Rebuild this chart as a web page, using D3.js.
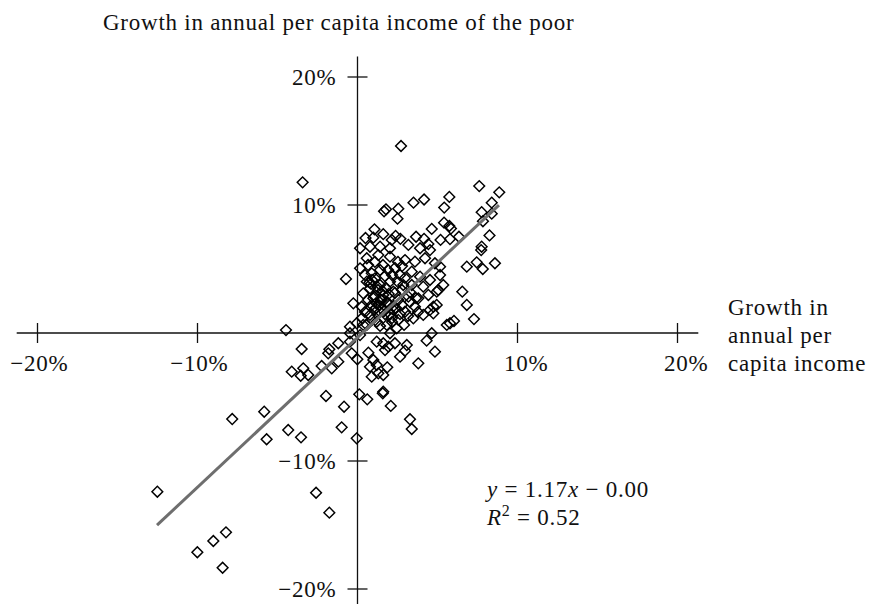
<!DOCTYPE html>
<html>
<head>
<meta charset="utf-8">
<script src="https://cdn.jsdelivr.net/npm/d3@7"></script>
<style>
  body { margin: 0; background: #fff; }
  svg text {
    font-family: "Palatino Linotype", "Book Antiqua", Palatino, "Liberation Serif", serif;
    font-size: 23px;
    fill: #111;
    letter-spacing: 0.75px;
  }
</style>
</head>
<body>
<div id="chart"></div>
<script>
// growth in annual per capita income (%), one entry per country spell
const incomeGrowth = [
  2.72, -3.43, 7.61, 8.86, 3.50, 4.16, 5.74, 5.42, 1.78, 1.66, 2.55, 2.50, 8.39, 7.76, 8.39, 7.84,
  8.25, 7.76, 5.41, 5.74, 5.84, 4.64, 1.06, 0.50, 1.61, 2.38, 2.68, 3.66, 4.16, 5.19, 6.34, 4.43,
  0.99, 2.14, 0.16, 0.78, 1.41, 2.03, 3.18, 3.91, 4.53, 0.58, 1.30, 2.03, 2.97, 3.59, 4.22, 4.84,
  -0.72, 0.16, 0.89, 1.41, 1.09, 0.58, 0.78, 1.41, 2.03, 2.66, 3.39, 3.91, 4.53, 5.16, 2.24, 1.61,
  0.99, 0.36, -0.26, 0.26, 0.89, 1.83, 2.55, 3.18, 3.80, 4.43, 4.95, 4.95, 4.53, 3.59, 2.97, 2.24,
  1.41, 0.78, -0.05, 0.58, 1.20, 1.83, 2.55, 3.49, 4.11, -0.47, 0.16, 4.64, 5.58, 5.36, 3.39, 2.86,
  4.11, 7.73, 7.45, 6.83, 7.83, 8.59, 5.78, 5.16, 5.05, 4.74, 4.74, 6.55, 6.83, 7.28, 5.78, 6.03,
  -4.47, -3.49, -1.76, -1.83, -1.20, -0.47, -0.47, -0.36, -0.01, 0.36, 0.68, 0.99, 0.78, 1.20, 0.89, 1.30,
  1.61, 1.86, -4.11, -3.39, -3.55, -3.08, -2.24, -1.61, -1.20, 1.61, 1.93, 2.34, 2.66, 3.08, 2.97, 3.80,
  4.84, 4.32, 1.61, 1.58, 2.08, 0.61, 0.11, -1.97, -0.84, 3.28, 3.39, -0.99, -0.05, -4.33, -3.53, 2.03,
  2.45, 1.20, 1.72, -12.51, -10.01, -9.01, -8.22, -8.43, -7.83, -5.83, -5.68, -2.59, -1.76,
  0.66, 1.09, 1.59, 1.91, 2.34, 2.78, 0.47, 0.91, 1.72, 2.16, 2.53, 2.97, 1.28, 1.78, 2.34, 2.78,
  3.28, 0.66, 1.16, 1.53, 2.03, 2.41, 2.78, 3.28, 3.66, 0.47, 1.03, 1.72, 2.16, 2.66, 3.16, 3.78,
  0.91, 1.41, 2.16, 2.91, 0.28, 2.53,
  0.85, 1.25, 1.55, 1.95, 1.05, 1.45, 1.85, 2.25, 1.15, 1.65, 2.05, 0.75, 1.35
]

// growth in annual per capita income of the poor (%), same order
const poorGrowth = [
  14.61, 11.77, 11.48, 10.99, 10.18, 10.43, 10.63, 9.80, 9.66, 9.51, 9.71, 8.93, 10.18, 9.44, 9.32, 8.73,
  7.62, 6.74, 8.62, 8.36, 8.16, 8.13, 8.10, 7.42, 7.72, 7.58, 7.36, 7.52, 7.36, 7.27, 7.52, 6.95,
  7.45, 7.27, 6.62, 6.74, 6.74, 6.62, 6.88, 6.62, 6.48, 5.84, 6.09, 5.96, 5.70, 5.57, 5.84, 5.45,
  4.22, 5.05, 4.66, 4.92, 4.27, 4.01, 3.49, 3.75, 4.01, 4.53, 4.79, 4.40, 4.14, 4.53, 3.23, 2.97,
  2.71, 3.10, 2.32, 2.05, 2.19, 2.45, 2.58, 2.84, 2.71, 2.97, 3.23, 2.19, 1.80, 2.05, 1.66, 1.80,
  1.66, 1.41, 0.76, 0.63, 0.88, 0.63, 1.02, 1.15, 1.41, -0.02, -0.16, -0.02, 0.63, 3.75, 3.75, 3.75,
  3.62, 6.48, 5.52, 5.18, 5.00, 5.45, 7.34, 5.18, 3.36, 2.05, 1.54, 3.23, 2.19, 1.09, 0.76, 0.94,
  0.23, -1.25, -1.27, -1.59, -0.80, 0.49, -0.68, -1.59, -2.05, 0.63, -1.54, -2.11, -2.63, -2.50, -3.41, -3.15,
  -3.28, -2.68, -3.02, -2.76, -3.34, -3.28, -2.58, -2.76, -2.24, -0.80, -1.07, -0.80, -1.85, -0.94, -1.38, -2.37,
  -1.46, -0.60, -4.59, -4.71, -5.70, -5.18, -4.79, -4.92, -5.76, -6.74, -7.50, -7.37, -8.23, -7.58, -8.15, -0.02,
  0.37, -0.68, -1.33, -12.40, -17.13, -16.25, -15.57, -18.34, -6.72, -6.15, -8.30, -12.48, -14.04,
  5.31, 5.55, 5.31, 4.92, 5.08, 5.23, 4.53, 4.14, 4.45, 4.53, 3.98, 4.30, 3.36, 3.52, 3.13, 3.36,
  3.20, 2.58, 2.34, 2.58, 2.19, 1.95, 2.19, 2.42, 2.73, 1.64, 1.80, 1.48, 1.17, 1.48, 1.33, 1.64,
  1.02, 0.55, 0.86, 0.63, 1.17, 5.55,
  3.85, 3.60, 3.30, 3.05, 2.85, 2.60, 2.35, 2.10, 1.95, 1.70, 1.45, 3.95, 2.15
]

const xTicks = [-20, -10, 10, 20]
const yTicks = [20, 10, -10, -20]

// fitted line y = 1.17x - 0.0035 (in % units), drawn over the range of the data
const fitSlope = 1.17
const fitIntercept = -0.35
const fitRange = [-12.53, 8.84]

const width = 878
const height = 604

const svg = d3.select('#chart')
  .append('svg')
  .attr('width', width)
  .attr('height', height)

svg.append('rect')
  .attr('width', width)
  .attr('height', height)
  .attr('fill', '#fff')

const x = d3.scaleLinear().domain([-20, 20]).range([37.5, 677.5])
const y = d3.scaleLinear().domain([-20, 20]).range([589, 77])

const pct = t => (t < 0 ? '\u2212' : '') + Math.abs(t) + '%'

// axes cross at the origin
const axes = svg.append('g')
  .attr('stroke', '#111')
  .attr('stroke-width', 1.3)

axes.append('line')
  .attr('x1', x(-21.3)).attr('x2', x(21.3))
  .attr('y1', y(0)).attr('y2', y(0))

axes.append('line')
  .attr('x1', x(0)).attr('x2', x(0))
  .attr('y1', y(21.6)).attr('y2', y(-21.6))

axes.selectAll('.xtick')
  .data(xTicks)
  .enter().append('line')
  .attr('x1', d => x(d)).attr('x2', d => x(d))
  .attr('y1', y(0) - 10).attr('y2', y(0) + 10)

axes.selectAll('.ytick')
  .data(yTicks)
  .enter().append('line')
  .attr('x1', x(0) - 10).attr('x2', x(0) + 10)
  .attr('y1', d => y(d)).attr('y2', d => y(d))

svg.selectAll('.xlabel')
  .data(xTicks)
  .enter().append('text')
  .attr('class', 'xlabel')
  .attr('x', d => x(d) + 31)
  .attr('y', y(0) + 38)
  .attr('text-anchor', 'end')
  .text(pct)

svg.selectAll('.ylabel')
  .data(yTicks)
  .enter().append('text')
  .attr('class', 'ylabel')
  .attr('x', x(0) - 21)
  .attr('y', d => y(d) + 8)
  .attr('text-anchor', 'end')
  .text(pct)

// points
const diamond = d3.symbol().type(d3.symbolSquare).size(58)

svg.append('g')
  .selectAll('path')
  .data(incomeGrowth.map((v, i) => [v, poorGrowth[i]]))
  .enter().append('path')
  .attr('d', diamond)
  .attr('transform', d => `translate(${x(d[0])},${y(d[1])}) rotate(45)`)
  .attr('fill', 'none')
  .attr('stroke', '#000')
  .attr('stroke-width', 1.45)

// regression line
const line = d3.line()
  .x(d => x(d))
  .y(d => y(fitSlope * d + fitIntercept))

svg.append('path')
  .datum(fitRange)
  .attr('d', line)
  .attr('fill', 'none')
  .attr('stroke', '#6e6e6e')
  .attr('stroke-width', 3)

// titles
svg.append('text')
  .attr('x', 103)
  .attr('y', 30)
  .text('Growth in annual per capita income of the poor')

const xTitle = svg.append('text')
  .attr('x', 728)
  .attr('y', 315)

;['Growth in', 'annual per', 'capita income'].forEach((s, i) => {
  xTitle.append('tspan')
    .attr('x', 728)
    .attr('dy', i ? 28 : 0)
    .text(s)
})

// fit equation
const eq = svg.append('text')
  .attr('x', 487)
  .attr('y', 497)
eq.append('tspan').attr('font-style', 'italic').text('y')
eq.append('tspan').text(' = ' + fitSlope.toFixed(2))
eq.append('tspan').attr('font-style', 'italic').text('x')
eq.append('tspan').text(' \u2212 0.00')

const r2 = svg.append('text')
  .attr('x', 487)
  .attr('y', 525)
r2.append('tspan').attr('font-style', 'italic').text('R')
r2.append('tspan').attr('dy', -9).style('font-size', '16px').text('2')
r2.append('tspan').attr('dy', 9).text(' = 0.52')
</script>
</body>
</html>
